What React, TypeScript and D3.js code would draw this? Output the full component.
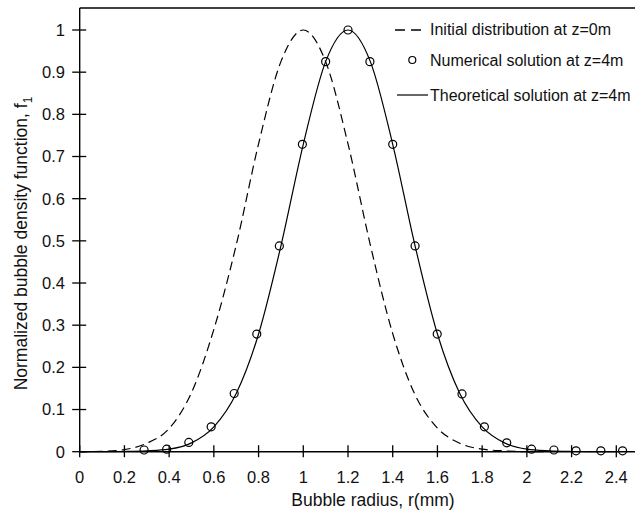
import React from "react";
import * as d3 from "d3";

const W = 635;
const H = 514;

const xTicks = [0, 0.2, 0.4, 0.6, 0.8, 1, 1.2, 1.4, 1.6, 1.8, 2, 2.2, 2.4];
const yTicks = [0, 0.1, 0.2, 0.3, 0.4, 0.5, 0.6, 0.7, 0.8, 0.9, 1];

// Initial distribution at z=0m (dashed)
const initialR = [0, 0.1, 0.2, 0.3, 0.4, 0.5, 0.6, 0.7, 0.8, 0.9, 1.0, 1.1, 1.2, 1.3, 1.4, 1.5, 1.6, 1.7, 1.8, 1.9, 2.0, 2.1];
const initialF = [0.0, 0.001, 0.005, 0.02, 0.055, 0.14, 0.29, 0.49, 0.73, 0.925, 1.0, 0.925, 0.73, 0.49, 0.28, 0.135, 0.056, 0.02, 0.006, 0.002, 0.0, 0.0];

// Theoretical solution at z=4m (solid)
const theoryR = [0, 0.1, 0.2, 0.3, 0.4, 0.5, 0.6, 0.7, 0.8, 0.9, 1.0, 1.1, 1.2, 1.3, 1.4, 1.5, 1.6, 1.7, 1.8, 1.9, 2.0, 2.1, 2.2, 2.3, 2.4];
const theoryF = [0, 0, 0.0005, 0.002, 0.006, 0.021, 0.059, 0.138, 0.279, 0.488, 0.729, 0.925, 1.0, 0.925, 0.729, 0.488, 0.279, 0.138, 0.059, 0.021, 0.006, 0.002, 0.0005, 0, 0];

// Numerical solution at z=4m (circles)
const numR = [0.288, 0.389, 0.488, 0.588, 0.691, 0.792, 0.893, 0.996, 1.1, 1.2, 1.298, 1.4, 1.5, 1.599, 1.71, 1.81, 1.91, 2.021, 2.121, 2.22, 2.331, 2.428];
const numF = [0.004, 0.006, 0.022, 0.059, 0.138, 0.279, 0.488, 0.729, 0.925, 1.0, 0.925, 0.729, 0.488, 0.279, 0.137, 0.059, 0.021, 0.006, 0.004, 0.002, 0.002, 0.002];

const legendLabels = [
  "Initial distribution at z=0m",
  "Numerical solution at z=4m",
  "Theoretical solution at z=4m",
];

const FONT = "'Liberation Sans', Arial, Helvetica, sans-serif";

export default function App() {
  const x = d3.scaleLinear().domain([0, 2.4]).range([79.7, 616.3]);
  const y = d3.scaleLinear().domain([0, 1]).range([451.7, 30]);
  const x0 = x(0);
  const y0 = y(0);
  const yTop = y(1.052);

  const line = d3
    .line<[number, number]>()
    .x((d) => x(d[0]))
    .y((d) => y(d[1]))
    .curve(d3.curveMonotoneX);

  const initialPath = line(initialR.map((r, i) => [r, initialF[i]]) as [number, number][]) || "";
  const theoryPath = line(theoryR.map((r, i) => [r, theoryF[i]]) as [number, number][]) || "";

  const fmt = (v: number) => (Number.isInteger(v) ? String(v) : v.toFixed(1));

  return (
    <svg
      width={W}
      height={H}
      style={{ position: "absolute", left: 0, top: 0, background: "#fff" }}
      fontFamily={FONT}
    >
      <rect x={0} y={0} width={W} height={H} fill="#fff" />
      {/* frame */}
      <line x1={x0} x2={W} y1={yTop} y2={yTop} stroke="#000" strokeWidth={1.4} />
      <line x1={x0} x2={x0} y1={yTop} y2={y0} stroke="#000" strokeWidth={1.4} />
      <line x1={x0} x2={W} y1={y0} y2={y0} stroke="#000" strokeWidth={1.4} />

      {/* x ticks */}
      {xTicks.map((t) => (
        <g key={"xt" + t}>
          <line x1={x(t)} x2={x(t)} y1={y0 - 6.5} y2={y0 + 5.5} stroke="#000" strokeWidth={1.3} />
          <text x={x(t)} y={483} textAnchor="middle" fontSize={16.5} fill="#111">
            {fmt(t)}
          </text>
        </g>
      ))}
      {/* y ticks */}
      {yTicks.map((t) => (
        <g key={"yt" + t}>
          <line x1={x0 - 7.5} x2={x0 + 6.5} y1={y(t)} y2={y(t)} stroke="#000" strokeWidth={1.3} />
          <text x={65} y={y(t)} dy="0.36em" textAnchor="end" fontSize={16.5} fill="#111">
            {fmt(t)}
          </text>
        </g>
      ))}

      {/* axis titles */}
      <text x={373} y={506} textAnchor="middle" fontSize={17.5} fill="#111">
        Bubble radius, r(mm)
      </text>
      <text
        transform={`translate(27, 243.5) rotate(-90)`}
        textAnchor="middle"
        fontSize={17.5}
        fill="#111"
      >
        Normalized bubble density function, f
        <tspan fontSize={12} dy={5}>1</tspan>
      </text>

      {/* curves */}
      <path d={initialPath} fill="none" stroke="#000" strokeWidth={1.2} strokeDasharray="9,5" />
      <path d={theoryPath} fill="none" stroke="#000" strokeWidth={1.2} />
      {numR.map((r, i) => (
        <circle key={"c" + i} cx={x(r)} cy={y(numF[i])} r={4} fill="none" stroke="#000" strokeWidth={1.2} />
      ))}

      {/* legend */}
      <line x1={395} x2={427} y1={30} y2={30} stroke="#000" strokeWidth={1.6} strokeDasharray="10,6" />
      <circle cx={412.3} cy={60} r={3.5} fill="none" stroke="#000" strokeWidth={1.2} />
      <line x1={397} x2={428} y1={95} y2={95} stroke="#000" strokeWidth={1.2} />
      {legendLabels.map((l, i) => (
        <text key={l} x={430} y={[35, 66, 101][i]} fontSize={16} fill="#111">
          {l}
        </text>
      ))}
    </svg>
  );
}
